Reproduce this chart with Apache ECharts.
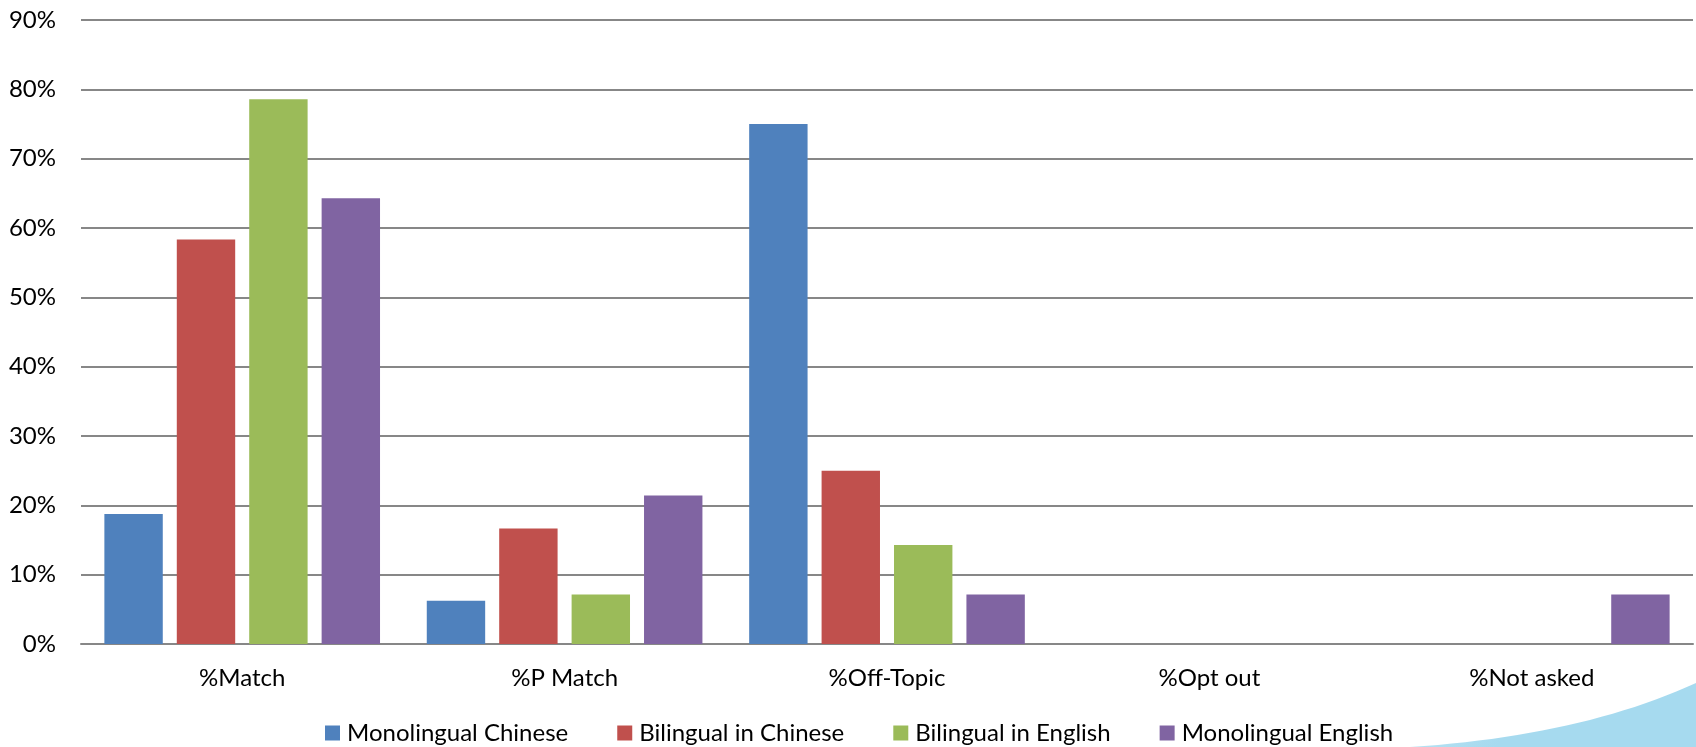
<!DOCTYPE html>
<html><head><meta charset="utf-8">
<script src="https://cdn.jsdelivr.net/npm/echarts@6/dist/echarts.min.js"></script>
<style>html,body{margin:0;padding:0;background:#fff}#c{width:1696px;height:747px}</style>
</head><body><div id="c"></div>
<script>
var categories = ['%Match', '%P Match', '%Off-Topic', '%Opt out', '%Not asked'];
var seriesNames = ['Monolingual Chinese', 'Bilingual in Chinese', 'Bilingual in English', 'Monolingual English'];
var monolingualChinese = [18.75, 6.25, 75.0, 0, 0];
var bilingualChinese = [58.33, 16.67, 25.0, 0, 0];
var bilingualEnglish = [78.57, 7.14, 14.29, 0, 0];
var monolingualEnglish = [64.29, 21.43, 7.14, 0, 7.14];
var yTicks = [0, 10, 20, 30, 40, 50, 60, 70, 80, 90];
var colors = ['#4F81BD', '#C0504D', '#9BBB59', '#8064A2'];

var FONT = 'Lato';
var chart = echarts.init(document.getElementById('c'), null, {renderer: 'canvas'});
var values = [monolingualChinese, bilingualChinese, bilingualEnglish, monolingualEnglish];
var series = seriesNames.map(function (n, i) {
  return {
    name: n, type: 'bar', data: values[i],
    barGap: '24%', barCategoryGap: '14.5%',
    itemStyle: {color: colors[i]},
    emphasis: {disabled: true}
  };
});

// decorative slide swoosh (background, not data)
function curve(x0, y0, cx, cy, x1, y1) {
  var pts = [];
  for (var k = 0; k <= 24; k++) {
    var t = k / 24;
    pts.push([(1 - t) * (1 - t) * x0 + 2 * (1 - t) * t * cx + t * t * x1,
              (1 - t) * (1 - t) * y0 + 2 * (1 - t) * t * cy + t * t * y1]);
  }
  pts.push([1696, 747]);
  return pts;
}

chart.setOption({
  animation: false,
  color: colors,
  graphic: [{
    type: 'polygon', z: -10, silent: true,
    shape: {points: curve(1410, 747, 1580, 736, 1696, 683)},
    style: {
      fill: {
        type: 'linear', x: 0, y: 0, x2: 0.3, y2: 1,
        colorStops: [
          {offset: 0, color: '#bfe5f4'},
          {offset: 1, color: '#a6daef'}
        ]
      }
    }
  }],
  grid: {left: 81, right: 3, top: 20, bottom: 103, containLabel: false},
  legend: {
    data: seriesNames,
    left: 320, top: 716,
    itemWidth: 15, itemHeight: 15, itemGap: 49,
    icon: 'rect',
    textStyle: {fontFamily: FONT, fontSize: 24, color: '#000', padding: [0, 0, 0, 2]}
  },
  xAxis: {
    type: 'category', data: categories,
    axisTick: {show: false},
    axisLine: {lineStyle: {color: '#878787', width: 2}},
    axisLabel: {fontFamily: FONT, fontSize: 24, color: '#000', margin: 22}
  },
  yAxis: {
    type: 'value', min: yTicks[0], max: yTicks[yTicks.length - 1], interval: 10,
    axisLine: {show: false}, axisTick: {show: false},
    splitLine: {lineStyle: {color: '#878787', width: 2}},
    axisLabel: {fontFamily: FONT, fontSize: 24, color: '#000', margin: 25, formatter: '{value}%'}
  },
  series: series
});
</script></body></html>
